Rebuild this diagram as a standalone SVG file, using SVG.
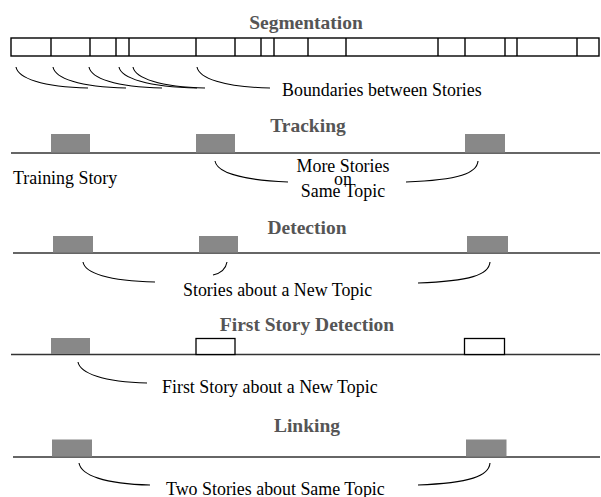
<svg xmlns="http://www.w3.org/2000/svg" width="601" height="497" viewBox="0 0 601 497">
<style>
.title{font-family:'Liberation Serif','DejaVu Serif',serif;font-weight:bold;font-size:19.5px;fill:#555;text-anchor:middle}
.lbl{font-family:'Liberation Serif','DejaVu Serif',serif;font-size:17.9px;fill:#000}
.axis{stroke:#333;stroke-width:1.4;fill:none}
.story{fill:#888;stroke:none}
.empty{fill:#fff;stroke:#000;stroke-width:1.3}
.seg{fill:#fff;stroke:#000;stroke-width:1.4}
.div{stroke:#000;stroke-width:1.4}
.conn path{fill:none;stroke:#000;stroke-width:1.1}
</style>
<rect width="601" height="497" fill="#fff"/>

<g id="segmentation">
<text class="title" x="306" y="29">Segmentation</text>
<rect class="seg" x="11" y="38" width="588" height="18"/>
<g class="div">
<line x1="51" y1="38" x2="51" y2="56"/><line x1="90" y1="38" x2="90" y2="56"/>
<line x1="116" y1="38" x2="116" y2="56"/><line x1="129" y1="38" x2="129" y2="56"/>
<line x1="196" y1="38" x2="196" y2="56"/><line x1="235" y1="38" x2="235" y2="56"/>
<line x1="261" y1="38" x2="261" y2="56"/><line x1="274" y1="38" x2="274" y2="56"/>
<line x1="308" y1="38" x2="308" y2="56"/><line x1="346" y1="38" x2="346" y2="56"/>
<line x1="438" y1="38" x2="438" y2="56"/><line x1="465" y1="38" x2="465" y2="56"/>
<line x1="505" y1="38" x2="505" y2="56"/><line x1="517" y1="38" x2="517" y2="56"/>
<line x1="577" y1="38" x2="577" y2="56"/>
</g>
<text class="lbl" x="282" y="96">Boundaries between Stories</text>
</g>

<g id="tracking">
<text class="title" x="308" y="132">Tracking</text>
<line class="axis" x1="11" y1="153" x2="600" y2="153"/>
<rect class="story" x="51" y="134" width="39" height="18.5"/>
<rect class="story" x="196" y="134" width="39" height="18.5"/>
<rect class="story" x="465" y="134" width="40" height="18.5"/>
<text class="lbl" x="13" y="184">Training Story</text>
<text class="lbl" x="343" y="172" text-anchor="middle">More Stories</text>
<text class="lbl" x="343" y="184.5" text-anchor="middle" font-size="16.5">on</text>
<text class="lbl" x="343" y="196.5" text-anchor="middle">Same Topic</text>
</g>

<g id="detection">
<text class="title" x="307" y="234">Detection</text>
<line class="axis" x1="13" y1="253" x2="600" y2="253"/>
<rect class="story" x="53" y="236" width="40" height="16.5"/>
<rect class="story" x="199" y="236" width="39" height="16.5"/>
<rect class="story" x="467" y="236" width="41" height="16.5"/>
<text class="lbl" x="183" y="296">Stories about a New Topic</text>
</g>

<g id="first-story-detection">
<text class="title" x="307" y="331">First Story Detection</text>
<line class="axis" x1="11" y1="354.5" x2="600" y2="354.5"/>
<rect class="story" x="51" y="338" width="39" height="16"/>
<rect class="empty" x="196" y="338.5" width="39" height="16"/>
<rect class="empty" x="464.5" y="338.5" width="40" height="16"/>
<text class="lbl" x="162" y="393">First Story about a New Topic</text>
</g>

<g id="linking">
<text class="title" x="307" y="432">Linking</text>
<line class="axis" x1="13" y1="457" x2="600" y2="457"/>
<rect class="story" x="52" y="439.5" width="40" height="17"/>
<rect class="story" x="466" y="439.5" width="40.5" height="17"/>
<text class="lbl" x="166" y="494.5">Two Stories about Same Topic</text>
</g>

<g id="connectors" class="conn">
<path d="M16,67 C18,78 42,87 88,88"/>
<path d="M53,67 C55,78 79,87 126,88"/>
<path d="M89,67 C91,78 115,87 162,88"/>
<path d="M119,67 C121,78 148,87 197,88"/>
<path d="M133,67 C135,78 160,87 205,88"/>
<path d="M197,67 C199,78 223,87 270,88"/>
<path d="M215,161 C217,172 240,180 288,182"/>
<path d="M478,161 C477,173 460,180 406,182"/>
<path d="M83,262 C85,273 108,281 155,282"/>
<path d="M227,262 C226,268 222,273 213,275"/>
<path d="M490,262 C489,275 470,281 418,283"/>
<path d="M78,362 C80,373 103,382 147,383"/>
<path d="M79,463 C81,475 104,484 150,485"/>
<path d="M490,463 C489,476 470,483 418,485"/>
</g>
</svg>
